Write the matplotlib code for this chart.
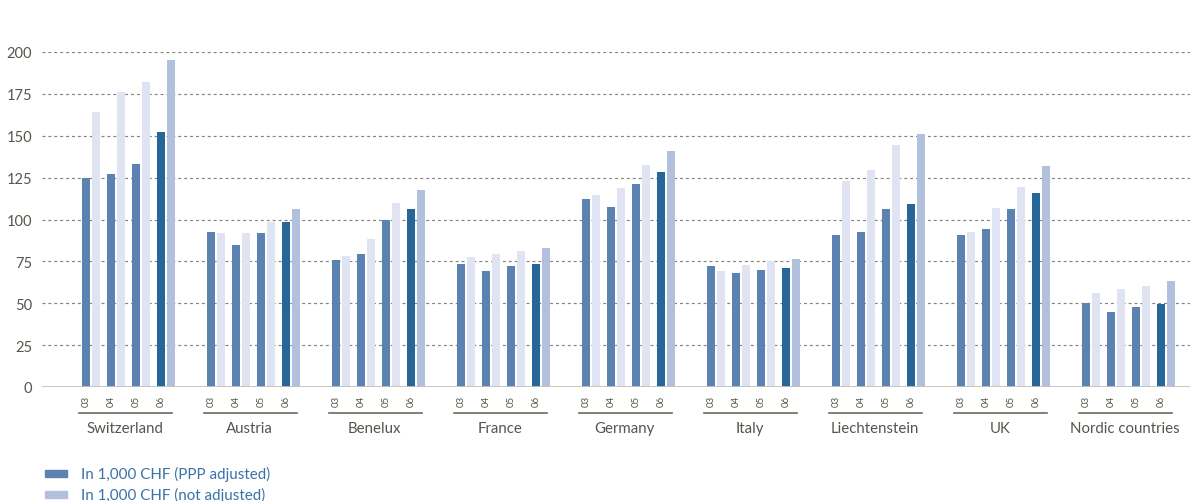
import matplotlib
matplotlib.use("Agg")
import matplotlib.pyplot as plt
from matplotlib.patches import Rectangle

plt.rcParams['font.family'] = ['Lato', 'DejaVu Sans']

countries = ['Switzerland', 'Austria', 'Benelux', 'France', 'Germany',
             'Italy', 'Liechtenstein', 'UK', 'Nordic countries']
years = ['03', '04', '05', '06']

# In 1,000 CHF, PPP adjusted (per country, 2003-2006)
ppp_adjusted = [
    [125, 127, 133, 152],
    [92.5, 85, 92, 98.5],
    [76, 79.5, 100, 106],
    [73.5, 69.5, 72, 73.5],
    [112, 107.5, 121, 128.5],
    [72, 68, 70, 71],
    [90.5, 92.5, 106, 109],
    [90.5, 94.5, 106, 116],
    [50, 44.5, 47.5, 49.5],
]
# In 1,000 CHF, not adjusted
not_adjusted = [
    [164, 176, 182, 195.5],
    [92, 92, 98.5, 106],
    [78, 88.5, 110, 117.5],
    [77.5, 79.5, 81, 83],
    [114.5, 119, 132.5, 141],
    [69.5, 73, 75, 76.5],
    [123, 129.5, 144.5, 151],
    [92.5, 107, 119.5, 132],
    [56, 58.5, 60.5, 63.5],
]
yticks = [0, 25, 50, 75, 100, 125, 150, 175, 200]

c_dark = '#5b82b0'
c_light = '#e0e4f2'
c_dark_last = '#266699'
c_light_last = '#b1c0dd'
c_text = '#55554d'
c_legend = '#3a72a8'

W, H = 1195, 502
fig = plt.figure(figsize=(W / 100, H / 100), dpi=100)
ax_left, ax_right, ax_bottom, ax_top = 42, 1190, 388, 53
ax = fig.add_axes([ax_left / W, 1 - ax_bottom / H,
                   (ax_right - ax_left) / W, (ax_bottom - ax_top) / H])

# one pair every 25 px, one group every 125 px
x0_px, step_px = 86, 25
ax.set_xlim((ax_left - x0_px) / step_px, (ax_right - x0_px) / step_px)
ax.set_ylim(0, 200)

bw = 0.32
for g, name in enumerate(countries):
    for i, yr in enumerate(years):
        x = g * 5 + i
        last = i == len(years) - 1
        ax.bar(x, ppp_adjusted[g][i], width=bw, color=c_dark_last if last else c_dark,
               zorder=3)
        ax.bar(x + 0.4, not_adjusted[g][i], width=bw,
               color=c_light_last if last else c_light, zorder=3)
        ax.text(x, -0.041, yr, transform=ax.get_xaxis_transform(), rotation=90,
                ha='center', va='center', fontsize=7, color=c_text)
    ax.plot([g * 5 - 0.28, g * 5 + 3.44], [-0.078, -0.078],
            transform=ax.get_xaxis_transform(), color='#6b6b5e', lw=1.2,
            clip_on=False)
    ax.text(g * 5 + 1.55, -0.122, name, transform=ax.get_xaxis_transform(),
            ha='center', va='center', fontsize=10.8, color=c_text)

for v in yticks[1:]:
    ax.axhline(v, color='#85857c', lw=0.85, ls=(0, (2.5, 2.5)), zorder=1)
ax.axhline(0, color='#c2c2ba', lw=2, zorder=4)

ax.set_yticks(yticks)
ax.set_yticklabels([str(v) for v in yticks], fontsize=10.5, color=c_text)
ax.tick_params(axis='y', length=0, pad=7)
ax.set_xticks([])
for s in ax.spines.values():
    s.set_visible(False)

# legend
labels = ['In 1,000 CHF (PPP adjusted)', 'In 1,000 CHF (not adjusted)']
colors = [c_dark, c_light_last]
for k, (lab, col) in enumerate(zip(labels, colors)):
    yc = 474 + 21 * k
    fig.patches.append(Rectangle((45 / W, 1 - (yc + 3.5) / H), 22 / W, 7 / H,
                                 transform=fig.transFigure, color=col))
    fig.text(81 / W, 1 - yc / H, lab, ha='left', va='center', fontsize=10.9,
             color=c_legend)

fig.savefig('out.png', dpi=100)
